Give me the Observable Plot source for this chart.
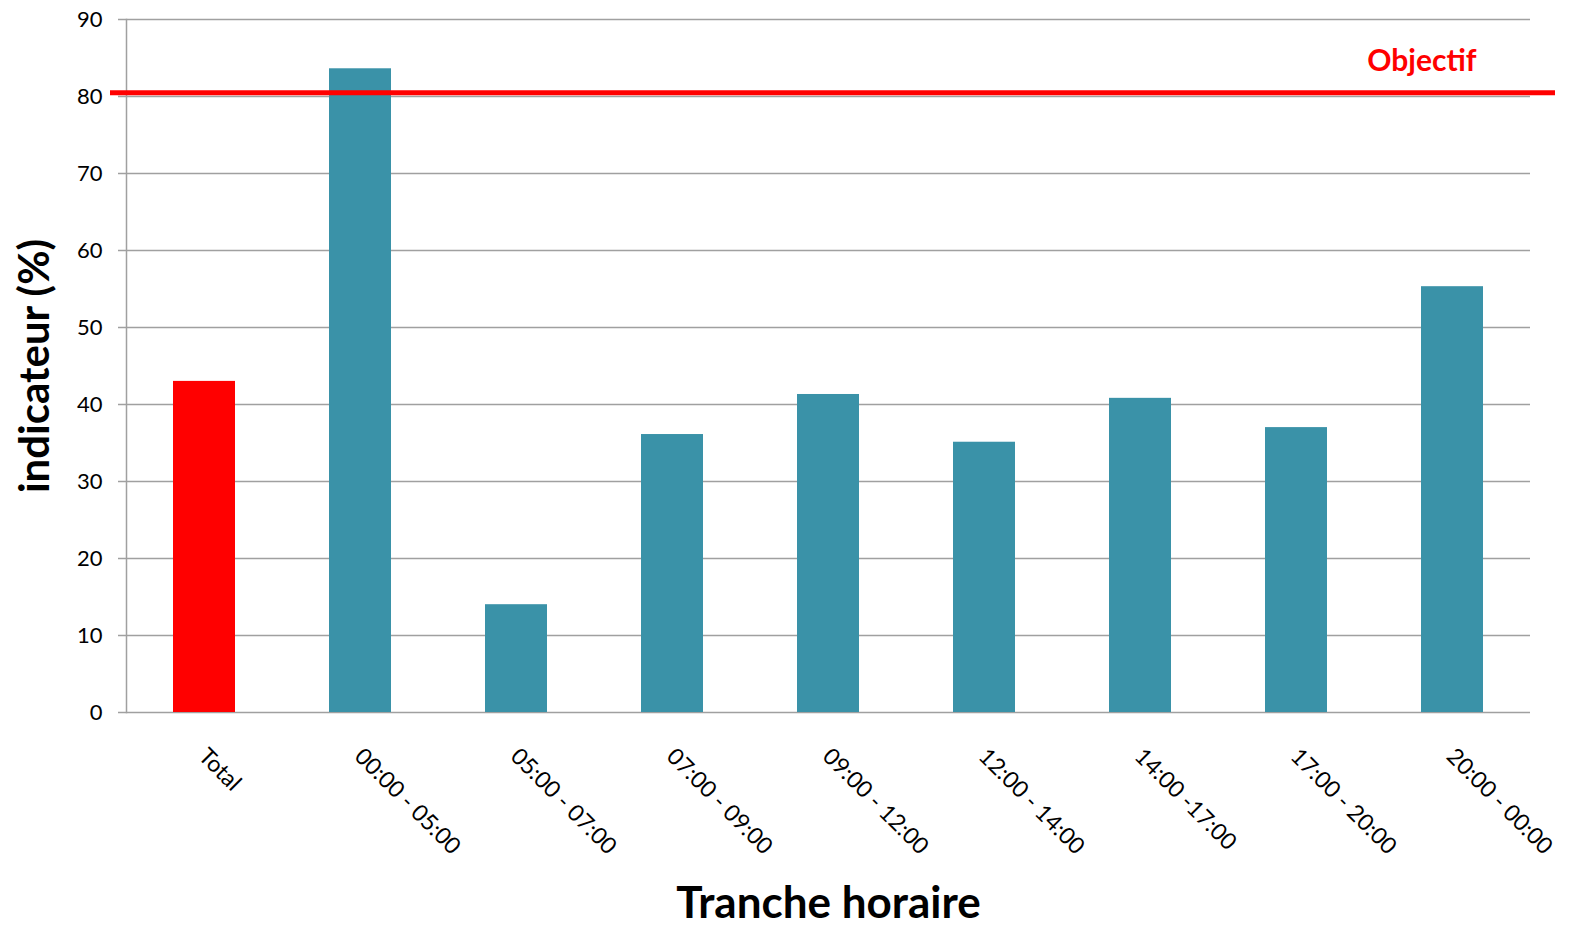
<!DOCTYPE html>
<html>
<head>
<meta charset="utf-8">
<script src="https://cdn.jsdelivr.net/npm/d3@7"></script>
<script src="https://cdn.jsdelivr.net/npm/@observablehq/plot@0.6"></script>
<style>
  html, body { margin: 0; padding: 0; background: #fff; }
  #chart svg { display: block; }
</style>
</head>
<body>
<div id="chart"></div>
<script>
const categories = ["Total", "00:00 - 05:00", "05:00 - 07:00", "07:00 - 09:00", "09:00 - 12:00", "12:00 - 14:00", "14:00 -17:00", "17:00 - 20:00", "20:00 - 00:00"];
const values = [43.0, 83.6, 14.0, 36.1, 41.3, 35.1, 40.8, 37.0, 55.3];
const barColors = ["#ff0000", "#3a92a8", "#3a92a8", "#3a92a8", "#3a92a8", "#3a92a8", "#3a92a8", "#3a92a8", "#3a92a8"];
const yTicks = [0, 10, 20, 30, 40, 50, 60, 70, 80, 90];
const objectif = 80.5;
const objectifLabel = "Objectif";
const yLabel = "indicateur (%)";
const xLabel = "Tranche horaire";

const data = categories.map((c, i) => ({cat: c, value: values[i], color: barColors[i]}));

const chart = Plot.plot({
  width: 1574,
  height: 926,
  marginLeft: 126,
  marginRight: 44,
  marginTop: 19,
  marginBottom: 214,
  style: {fontFamily: "Lato, 'Open Sans', sans-serif", fontSize: "22px", color: "#000", background: "#fff"},
  x: {domain: categories, paddingInner: 0.6, paddingOuter: 0.3, label: null},
  y: {domain: [0, 90], ticks: yTicks, label: null},
  marks: [
    Plot.ruleY(yTicks, {stroke: "#a0a0a0", strokeWidth: 1.5, insetLeft: -8}),
    Plot.barY(data, {x: "cat", y: "value", fill: "color"}),
    Plot.frame({anchor: "left", stroke: "#a0a0a0", strokeWidth: 1.5}),
    Plot.ruleY([objectif], {stroke: "#ff0000", strokeWidth: 5, insetLeft: -16, insetRight: -25}),
    Plot.text([objectifLabel], {text: d => d, frameAnchor: "right", y: () => objectif, dx: -54, dy: -31, textAnchor: "end", fill: "#ff0000", fontWeight: "bold", fontSize: 30}),
    Plot.axisY({ticks: yTicks, tickSize: 0, tickPadding: 24, fontSize: 22, label: null}),
    Plot.axisX({tickSize: 0, tickRotate: 45, tickPadding: 40, fontSize: 23, label: null, dx: -2}),
    Plot.text([yLabel], {text: d => d, frameAnchor: "left", textAnchor: "middle", rotate: -90, dx: -91, fontWeight: "bold", fontSize: 42, fill: "#000"}),
    Plot.text([xLabel], {text: d => d, frameAnchor: "bottom", textAnchor: "middle", dy: 205, fontWeight: "bold", fontSize: 44, fill: "#000"})
  ]
});
document.getElementById("chart").appendChild(chart);
</script>
</body>
</html>
